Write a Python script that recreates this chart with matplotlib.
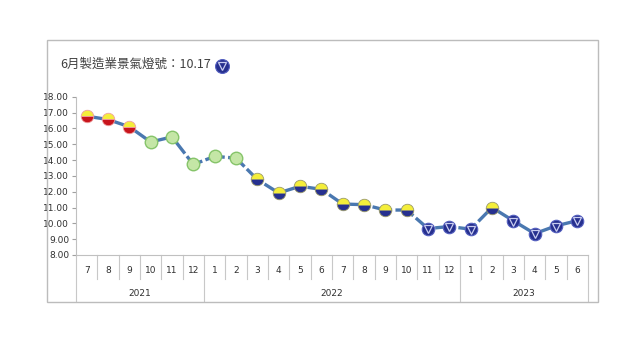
import matplotlib
matplotlib.use("Agg")
import matplotlib.pyplot as plt
from matplotlib.patches import Rectangle

plt.rcParams['font.family'] = ['Noto Sans CJK TC', 'DejaVu Sans']

# data
months = ['7', '8', '9', '10', '11', '12',
          '1', '2', '3', '4', '5', '6', '7', '8', '9', '10', '11', '12',
          '1', '2', '3', '4', '5', '6']
years = ['2021', '2022', '2023']
year_spans = [6, 12, 6]
scores = [16.77, 16.56, 16.10, 15.14, 15.46, 13.72, 14.23, 14.12,
          12.77, 11.92, 12.34, 12.15, 11.22, 11.18, 10.84, 10.84,
          9.67, 9.80, 9.63, 11.00, 10.16, 9.35, 9.84, 10.17]
# YR = yellow-red, G = green, YB = yellow-blue, B = blue
lights = ['YR'] * 3 + ['G'] * 5 + ['YB'] * 8 + ['B'] * 3 + ['YB'] + ['B'] * 4
title = '6月製造業景氣燈號：10.17'

W, H = 640, 360
fig = plt.figure(figsize=(6.4, 3.6), dpi=100)
ax = fig.add_axes([76 / W, 1 - 255 / H, 512 / W, 158.3 / H])

x = list(range(len(scores)))
ax.plot(x, scores, color='#4a78b0', lw=2.4, dashes=(6, 1.0), zorder=2)

yellow, red, blue, green = '#f4ee3a', '#c8141c', '#26308f', '#c4e6a6'
ms = 9
for xi, v, c in zip(x, scores, lights):
    if c == 'G':
        ax.plot(xi, v, 'o', ms=ms, mfc=green, mec='#86c46a', mew=1.0, zorder=3)
    elif c == 'YR':
        ax.plot(xi, v, 'o', ms=ms, fillstyle='top', mfc=yellow, mfcalt=red,
                mec='#f0a0a0', mew=0.6, zorder=3)
    elif c == 'YB':
        ax.plot(xi, v, 'o', ms=ms, fillstyle='top', mfc=yellow, mfcalt=blue,
                mec='#9a9a6a', mew=0.6, zorder=3)
    else:
        ax.plot(xi, v, 'o', ms=ms, mfc=blue, mec='#5560c0', mew=0.8, zorder=3)
        ax.plot(xi, v - 0.05, 'v', ms=5.2, mfc='none', mec='#c8ccf0',
                mew=0.9, zorder=4)

ax.set_xlim(-0.5, len(scores) - 0.5)
ax.set_ylim(8, 18)
ax.set_yticks(range(8, 19))
ax.set_yticklabels([f'{t:.2f}' for t in range(8, 19)], fontsize=6.5,
                   color='#303030', family='DejaVu Sans')
ax.tick_params(axis='y', length=3, color='#a0a0a0', pad=2)
ax.set_xticks([])
for s in ['top', 'right']:
    ax.spines[s].set_visible(False)
ax.spines['left'].set_color('#c0c0c0')
ax.spines['bottom'].set_color('#c0c0c0')

# category table under the axis
tr = ax.get_xaxis_transform()
line_c = '#c8c8c8'
month_bot = (255 - 279) / 158.3
year_bot = (255 - 301) / 158.3
year_edges = [0]
for s in year_spans:
    year_edges.append(year_edges[-1] + s)
for i in range(len(months) + 1):
    bot = year_bot if i in year_edges else month_bot
    ax.plot([i - 0.5, i - 0.5], [0, bot], color=line_c, lw=0.8,
            transform=tr, clip_on=False)
for i, m in enumerate(months):
    ax.text(i, -0.095, m, transform=tr, ha='center', va='center',
            fontsize=6.5, color='#303030', family='DejaVu Sans')
for k, yr in enumerate(years):
    mid = (year_edges[k] + year_edges[k + 1]) / 2 - 0.5
    ax.text(mid, -0.245, yr, transform=tr, ha='center', va='center',
            fontsize=6.5, color='#303030', family='DejaVu Sans')

# outer frame
fig.patches.append(Rectangle((47 / W, 1 - 302 / H), 551 / W, 262 / H,
                             transform=fig.transFigure, fill=False,
                             edgecolor='#bcbcbc', lw=1.0))

t = fig.text(60 / W, 1 - 64 / H, title, fontsize=9, color='#404040',
             ha='left', va='center')
fig.canvas.draw()
bb = t.get_window_extent()
ix = bb.x1 + 3
icon = fig.add_axes([ix / W, 1 - 74 / H, 16 / W, 16 / H])
icon.axis('off')
icon.set_xlim(-1, 1)
icon.set_ylim(-1, 1)
icon.plot(0, 0, 'o', ms=10, mfc=blue, mec='#5560c0', mew=0.8)
icon.plot(0, -0.05, 'v', ms=5.5, mfc='none', mec='#c8ccf0', mew=0.9)

fig.savefig('out.png', dpi=100, facecolor='white')
